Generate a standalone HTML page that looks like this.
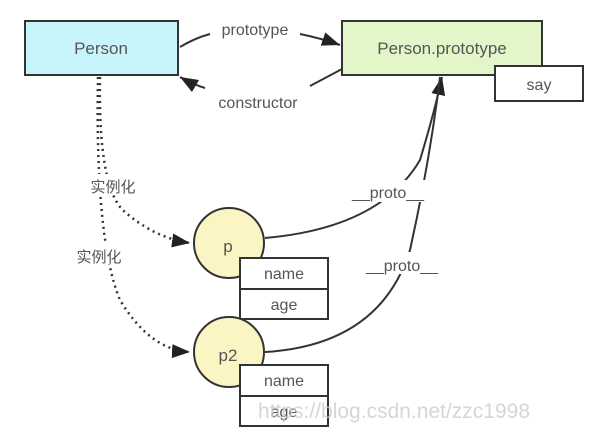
<!DOCTYPE html>
<html><head><meta charset="utf-8"><style>
body{margin:0;background:#fff}
svg text{font-family:"Liberation Sans","Noto Sans CJK SC",sans-serif;fill:#555}
</style></head><body>
<svg width="600" height="434" viewBox="0 0 600 434" xmlns="http://www.w3.org/2000/svg">
<defs>
<marker id="b" markerWidth="20" markerHeight="14" refX="18" refY="7" orient="auto" markerUnits="userSpaceOnUse"><path d="M0,0 L18,7 L0,14 z" fill="#222"/></marker>
</defs>
<rect x="25" y="21" width="153" height="54" fill="#c8f4fb" stroke="#333" stroke-width="2"/>
<text x="101" y="54" font-size="17" text-anchor="middle">Person</text>
<rect x="342" y="21" width="200" height="54" fill="#e2f6c9" stroke="#333" stroke-width="2"/>
<text x="442" y="54" font-size="17" text-anchor="middle">Person.prototype</text>
<rect x="495" y="66" width="88" height="35" fill="#fff" stroke="#333" stroke-width="2"/>
<text x="539" y="90" font-size="16" text-anchor="middle">say</text>
<path d="M180,47 Q195,38 210,34" fill="none" stroke="#333" stroke-width="2"/>
<path d="M300,34 Q320,38 340,45" fill="none" stroke="#333" stroke-width="2" marker-end="url(#b)"/>
<text x="255" y="35" font-size="16" text-anchor="middle">prototype</text>
<path d="M342,69 Q325,78 310,86" fill="none" stroke="#333" stroke-width="2"/>
<path d="M205,88 Q192,84 180,77" fill="none" stroke="#333" stroke-width="2" marker-end="url(#b)"/>
<text x="258" y="108" font-size="16" text-anchor="middle">constructor</text>
<path d="M100,77 Q98,190 125,212 Q155,238 190,243" fill="none" stroke="#333" stroke-width="2.5" stroke-dasharray="2,4" marker-end="url(#b)"/>
<path d="M98,77 Q95,240 120,300 Q150,350 190,352" fill="none" stroke="#333" stroke-width="2.5" stroke-dasharray="2,4" marker-end="url(#b)"/>
<rect x="82" y="174" width="62" height="20" fill="#fff"/>
<text x="113" y="192" font-size="15" text-anchor="middle">实例化</text>
<rect x="68" y="244" width="62" height="20" fill="#fff"/>
<text x="99" y="262" font-size="15" text-anchor="middle">实例化</text>
<path d="M265,238 Q380,228 420,160 Q435,110 442,77" fill="none" stroke="#333" stroke-width="2" marker-end="url(#b)"/>
<path d="M265,352 Q380,345 410,250 Q430,160 440,77" fill="none" stroke="#333" stroke-width="2"/>
<rect x="345" y="180" width="85" height="22" fill="#fff"/>
<text x="388" y="198" font-size="16" text-anchor="middle">__proto__</text>
<rect x="358" y="252" width="88" height="22" fill="#fff"/>
<text x="402" y="271" font-size="16" text-anchor="middle">__proto__</text>
<circle cx="229" cy="243" r="35" fill="#fbf5c4" stroke="#333" stroke-width="2"/>
<text x="228" y="252" font-size="17" text-anchor="middle">p</text>
<rect x="240" y="258" width="88" height="31" fill="#fff" stroke="#333" stroke-width="2"/>
<text x="284" y="279" font-size="16" text-anchor="middle">name</text>
<rect x="240" y="289" width="88" height="30" fill="#fff" stroke="#333" stroke-width="2"/>
<text x="284" y="310" font-size="16" text-anchor="middle">age</text>
<circle cx="229" cy="352" r="35" fill="#fbf5c4" stroke="#333" stroke-width="2"/>
<text x="228" y="361" font-size="17" text-anchor="middle">p2</text>
<rect x="240" y="365" width="88" height="31" fill="#fff" stroke="#333" stroke-width="2"/>
<text x="284" y="386" font-size="16" text-anchor="middle">name</text>
<rect x="240" y="396" width="88" height="30" fill="#fff" stroke="#333" stroke-width="2"/>
<text x="284" y="417" font-size="16" text-anchor="middle">age</text>
<text x="258" y="418" font-size="21" style="fill:#ccc" opacity="0.8">https://blog.csdn.net/zzc1998</text>
</svg>
</body></html>
